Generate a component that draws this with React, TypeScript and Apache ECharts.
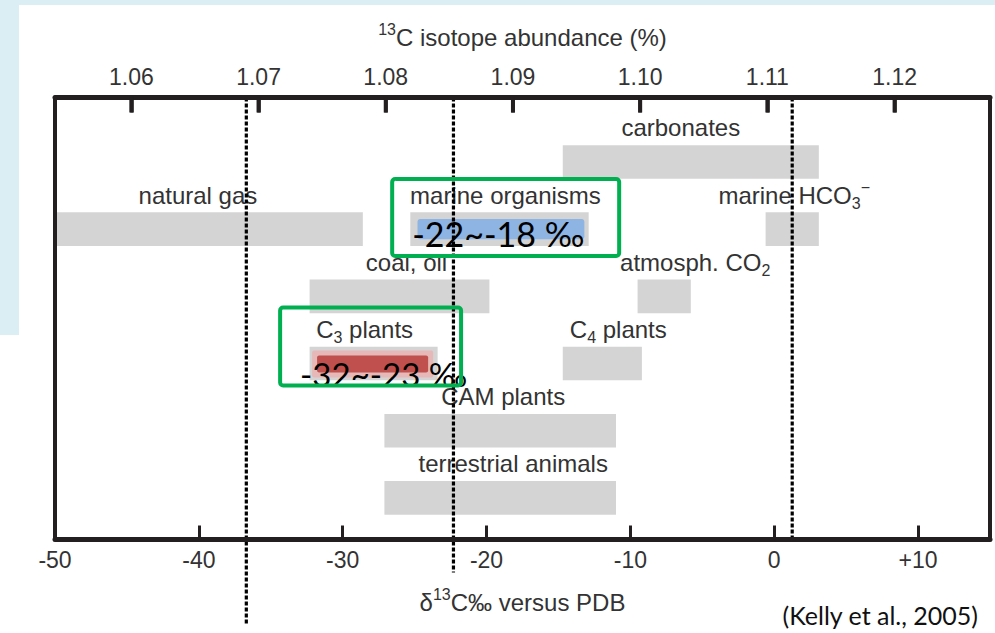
import React, { useEffect, useRef } from 'react';
import * as echarts from 'echarts';

// ---- data ----
const sourceNames = [
  'carbonates', 'natural gas', 'marine organisms', 'marine HCO3-', 'coal, oil',
  'atmosph. CO2', 'C3 plants', 'C4 plants', 'CAM plants', 'terrestrial animals',
];
const labelMarkup = [
  'carbonates', 'natural gas', 'marine organisms', 'marine HCO{sub|3}{sup|\u2212}', 'coal, oil',
  'atmosph. CO{sub|2}', 'C{sub|3} plants', 'C{sub|4} plants', 'CAM plants', 'terrestrial animals',
];
const sourceRows = [0, 1, 1, 1, 2, 2, 3, 3, 4, 5];
const sourceLow = [-14.7, -50, -25.3, -0.6, -32.3, -9.5, -32.3, -14.7, -27.1, -27.1];
const sourceHigh = [3.1, -28.6, -12.9, 3.1, -19.8, -5.8, -23.4, -9.2, -11.0, -11.0];

const deltaMin = -50;
const deltaMax = 15;
const deltaStep = 10;
const abundanceMin = 1.054;
const abundanceMax = 1.1275;
const abundanceTicks = [1.06, 1.07, 1.08, 1.09, 1.1, 1.11, 1.12];
const rowMin = -0.96;
const rowMax = 5.62;

const refLineX = [-36.7, -22.3, 1.25];
const refLineEnd = [6.9, 6.11, 5.62];

const highlightLow = [-24.8, -32.13, -31.78];
const highlightHigh = [-13.2, -23.71, -24.06];
const highlightTop = [0.85, 2.806, 2.88];
const highlightBottom = [1.15, 3.209, 3.134];

const boxLow = [-26.56, -34.35];
const boxHigh = [-10.78, -21.77];
const boxTop = [0.255, 2.166];
const boxBottom = [1.4, 3.328];

const noteTexts = ['-22~-18 \u2030', '-32~-23 \u2030'];
const noteX = [-25.17, -32.96];
const noteY = [1.06, 3.149];

const citation = '(Kelly et al., 2005)';

// ---- styling ----
const FONT = 'Liberation Sans';
const NOTE_FONT = 'Lato';
const TEXT = '#333333';
const FRAME = '#231f20';
const labelDx = [-10, -11, 6, 2, 7, 31, -9, 16, 3, 13];
const highlightColors = ['#8db4e2', '#e6b9b8', '#c0504d'];
const noteSizes = [34, 33];

const richScript = {
  sub: { fontSize: 16, lineHeight: 12, verticalAlign: 'bottom', fontFamily: FONT, fill: TEXT, color: TEXT },
  sup: { fontSize: 16, lineHeight: 13, verticalAlign: 'top', fontFamily: FONT, fill: TEXT, color: TEXT },
};

export default function App() {
  const ref = useRef<HTMLDivElement>(null);

  useEffect(() => {
    if (!ref.current) return;
    const chart = echarts.init(ref.current, null, { renderer: 'svg' });

    const barData = sourceLow.map((lo, i) => [lo, sourceHigh[i], sourceRows[i]]);

    const frameAxisY = (position: string) => ({
      type: 'value',
      position,
      min: rowMin,
      max: rowMax,
      inverse: true,
      z: 10,
      axisLine: { show: true, onZero: false, lineStyle: { color: FRAME, width: 4 } },
      axisTick: { show: false },
      axisLabel: { show: false },
      splitLine: { show: false },
    });

    const option: any = {
      animation: false,
      backgroundColor: '#ffffff',
      grid: { left: 55, right: 5, top: 97.5, bottom: 93.5, show: false },
      xAxis: [
        {
          type: 'value',
          position: 'bottom',
          min: deltaMin,
          max: deltaMax,
          interval: deltaStep,
          z: 10,
          axisLine: { show: true, onZero: false, lineStyle: { color: FRAME, width: 5 } },
          axisTick: { show: true, inside: true, length: 14, lineStyle: { color: FRAME, width: 3 } },
          splitLine: { show: false },
          axisLabel: {
            show: true,
            margin: 9,
            fontSize: 23,
            fontFamily: FONT,
            color: TEXT,
            showMaxLabel: false,
            formatter: (v: number) => (v > 0 ? '+' + v : String(v)),
          },
          name: '\u03b4{sup|13}C\u2030 versus PDB',
          nameLocation: 'middle',
          nameGap: 47,
          nameTextStyle: { fontSize: 24, fontFamily: FONT, color: TEXT, lineHeight: 32, rich: richScript },
        },
        {
          type: 'value',
          position: 'top',
          min: abundanceMin,
          max: abundanceMax,
          z: 10,
          axisLine: { show: true, onZero: false, lineStyle: { color: FRAME, width: 5 } },
          axisTick: { show: true, inside: true, length: 15, lineStyle: { color: FRAME, width: 3.5 } },
          splitLine: { show: false },
          axisLabel: {
            show: true,
            margin: 9,
            fontSize: 23,
            fontFamily: FONT,
            color: TEXT,
            showMinLabel: false,
            showMaxLabel: false,
            formatter: (v: number) => v.toFixed(2),
          },
          name: '{sup|13}C isotope abundance (%)',
          nameLocation: 'middle',
          nameGap: 44,
          nameTextStyle: { fontSize: 24, fontFamily: FONT, color: TEXT, lineHeight: 32, rich: richScript },
        },
      ],
      yAxis: [frameAxisY('left'), frameAxisY('right')],
      graphic: [
        { type: 'rect', z: -100, shape: { x: 0, y: 0, width: 995, height: 5 }, style: { fill: '#daeef3' } },
        { type: 'rect', z: -100, shape: { x: 0, y: 0, width: 19, height: 335 }, style: { fill: '#daeef3' } },
        {
          type: 'text',
          x: 978,
          y: 615,
          style: {
            text: citation,
            fontSize: 25,
            fontFamily: NOTE_FONT,
            fill: '#111111',
            align: 'right',
            textAlign: 'right',
            verticalAlign: 'middle',
            textVerticalAlign: 'middle',
          },
        },
      ],
      series: [
        {
          type: 'custom',
          name: 'ranges',
          z: 2,
          xAxisIndex: 0,
          yAxisIndex: 0,
          clip: false,
          data: barData,
          encode: { x: [0, 1], y: 2 },
          renderItem: (params: any, api: any) => {
            const p0 = api.coord([api.value(0), api.value(2)]);
            const p1 = api.coord([api.value(1), api.value(2)]);
            const h = api.size([0, 0.5])[1];
            return {
              type: 'rect',
              shape: { x: p0[0], y: p0[1] - h / 2, width: p1[0] - p0[0], height: h },
              style: { fill: '#d4d4d5' },
            };
          },
        },
        {
          type: 'custom',
          name: 'labels',
          z: 3,
          xAxisIndex: 0,
          yAxisIndex: 0,
          clip: false,
          data: barData,
          encode: { x: [0, 1], y: 2 },
          renderItem: (params: any, api: any) => {
            const i = params.dataIndex;
            const p0 = api.coord([api.value(0), api.value(2)]);
            const p1 = api.coord([api.value(1), api.value(2)]);
            return {
              type: 'text',
              style: {
                text: labelMarkup[i],
                x: (p0[0] + p1[0]) / 2 + labelDx[i],
                y: p0[1] - 34,
                align: 'center',
                textAlign: 'center',
                verticalAlign: 'middle',
                textVerticalAlign: 'middle',
                fontSize: 24,
                fontFamily: FONT,
                fill: TEXT,
                lineHeight: 32,
                rich: richScript,
              },
            };
          },
        },
        {
          type: 'custom',
          name: 'highlights',
          z: 4,
          xAxisIndex: 0,
          yAxisIndex: 0,
          clip: false,
          data: highlightLow.map((lo, i) => [lo, highlightHigh[i], highlightTop[i], highlightBottom[i]]),
          encode: { x: [0, 1], y: [2, 3] },
          renderItem: (params: any, api: any) => {
            const i = params.dataIndex;
            const a = api.coord([api.value(0), api.value(2)]);
            const b = api.coord([api.value(1), api.value(3)]);
            return {
              type: 'rect',
              shape: { x: a[0], y: a[1], width: b[0] - a[0], height: b[1] - a[1], r: i === 0 ? 3 : 2 },
              style: { fill: highlightColors[i] },
            };
          },
        },
        {
          type: 'custom',
          name: 'notes',
          z: 5,
          xAxisIndex: 0,
          yAxisIndex: 0,
          clip: false,
          data: noteX.map((x, i) => [x, noteY[i]]),
          encode: { x: 0, y: 1 },
          renderItem: (params: any, api: any) => {
            const i = params.dataIndex;
            const p = api.coord([api.value(0), api.value(1)]);
            return {
              type: 'text',
              style: {
                text: noteTexts[i],
                x: p[0],
                y: p[1],
                align: 'left',
                textAlign: 'left',
                verticalAlign: 'middle',
                textVerticalAlign: 'middle',
                fontSize: noteSizes[i],
                fontFamily: NOTE_FONT,
                fill: '#000000',
              },
            };
          },
        },
        {
          type: 'custom',
          name: 'reference lines',
          z: 6,
          xAxisIndex: 0,
          yAxisIndex: 0,
          clip: false,
          data: refLineX.map((x, i) => [x, rowMin, refLineEnd[i]]),
          encode: { x: 0, y: [1, 2] },
          renderItem: (params: any, api: any) => {
            const a = api.coord([api.value(0), api.value(1)]);
            const b = api.coord([api.value(0), api.value(2)]);
            return {
              type: 'line',
              shape: { x1: a[0], y1: a[1], x2: b[0], y2: b[1] },
              style: { stroke: '#000000', lineWidth: 3.2, lineDash: [4, 2] },
            };
          },
        },
        {
          type: 'custom',
          name: 'boxes',
          z: 7,
          xAxisIndex: 0,
          yAxisIndex: 0,
          clip: false,
          data: boxLow.map((lo, i) => [lo, boxHigh[i], boxTop[i], boxBottom[i]]),
          encode: { x: [0, 1], y: [2, 3] },
          renderItem: (params: any, api: any) => {
            const a = api.coord([api.value(0), api.value(2)]);
            const b = api.coord([api.value(1), api.value(3)]);
            return {
              type: 'rect',
              shape: { x: a[0], y: a[1], width: b[0] - a[0], height: b[1] - a[1], r: 3 },
              style: { fill: 'none', stroke: '#00b050', lineWidth: 4 },
            };
          },
        },
        {
          type: 'custom',
          name: 'abundance ticks',
          z: 11,
          xAxisIndex: 1,
          yAxisIndex: 0,
          clip: false,
          data: abundanceTicks.map((v) => [v, rowMin]),
          encode: { x: 0, y: 1 },
          renderItem: (params: any, api: any) => {
            const p = api.coord([api.value(0), api.value(1)]);
            return {
              type: 'rect',
              shape: { x: p[0] - 2, y: p[1], width: 4, height: 15 },
              style: { fill: FRAME },
            };
          },
        },
      ],
    };

    chart.setOption(option);
    return () => {
      chart.dispose();
    };
  }, []);

  return (
    <div
      ref={ref}
      style={{ position: 'fixed', left: 0, top: 0, width: 995, height: 633, background: '#ffffff' }}
    />
  );
}
